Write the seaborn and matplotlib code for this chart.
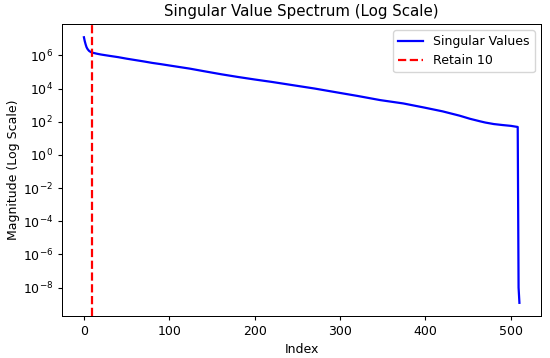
import matplotlib
matplotlib.use("Agg")
import matplotlib.pyplot as plt
import seaborn as sns
import pandas as pd

# Singular values (index, magnitude)
index = [0, 1, 2, 3, 4, 5, 6, 8, 10, 15, 20, 30, 40, 50, 60, 70, 80, 90, 100,
         110, 124, 140, 161, 180, 200, 220, 245, 270, 300, 320, 347, 374, 398,
         420, 440, 452, 464, 470, 480, 490, 500, 508, 509, 510]
singular_values = [1.23e7, 7.08e6, 4.57e6, 3.16e6, 2.51e6, 2.14e6, 1.86e6, 1.58e6,
                   1.45e6, 1.26e6, 1.12e6, 9.3e5, 7.8e5, 6.3e5, 5.2e5, 4.3e5, 3.5e5,
                   2.95e5, 2.45e5, 2.04e5, 1.58e5, 1.12e5, 7.2e4, 5.0e4, 3.5e4, 2.5e4,
                   1.58e4, 1.0e4, 5.4e3, 3.6e3, 2.0e3, 1.26e3, 7.2e2, 4.2e2, 2.3e2,
                   1.5e2, 1.05e2, 89, 72, 63, 56, 48, 1e-8, 1.2e-9]
retain_k = 10
x_ticks = [0, 100, 200, 300, 400, 500]
y_ticks = [1e-8, 1e-6, 1e-4, 1e-2, 1e0, 1e2, 1e4, 1e6]

df = pd.DataFrame({"Index": index, "Magnitude": singular_values})

s = 0.9
plt.rcParams.update({
    "font.size": 10 * s,
    "axes.titlesize": 12 * s,
    "axes.labelsize": 10 * s,
    "xtick.labelsize": 10 * s,
    "ytick.labelsize": 10 * s,
    "legend.fontsize": 10 * s,
    "axes.linewidth": 0.8 * s,
    "xtick.major.size": 3.5 * s,
    "ytick.major.size": 3.5 * s,
    "xtick.minor.size": 2 * s,
    "ytick.minor.size": 2 * s,
})

fig = plt.figure(figsize=(5.5, 3.58), dpi=100)
ax = fig.add_axes([0.113, 0.117, 0.871, 0.816])
sns.lineplot(data=df, x="Index", y="Magnitude", ax=ax, color="blue",
             linewidth=1.6, label="Singular Values")
ax.axvline(retain_k, color="red", linestyle="--", linewidth=1.6,
           label=f"Retain {retain_k}")
ax.set_yscale("log")
ylim = ax.get_ylim()
ax.set_yticks(y_ticks)
ax.minorticks_off()
ax.set_ylim(ylim)
ax.set_xticks(x_ticks)
ax.set_xlabel("Index", labelpad=3)
ax.set_ylabel("Magnitude (Log Scale)", labelpad=1.5)
ax.set_title("Singular Value Spectrum (Log Scale)")
ax.legend(loc="upper right")
fig.savefig("out.png", dpi=100)
